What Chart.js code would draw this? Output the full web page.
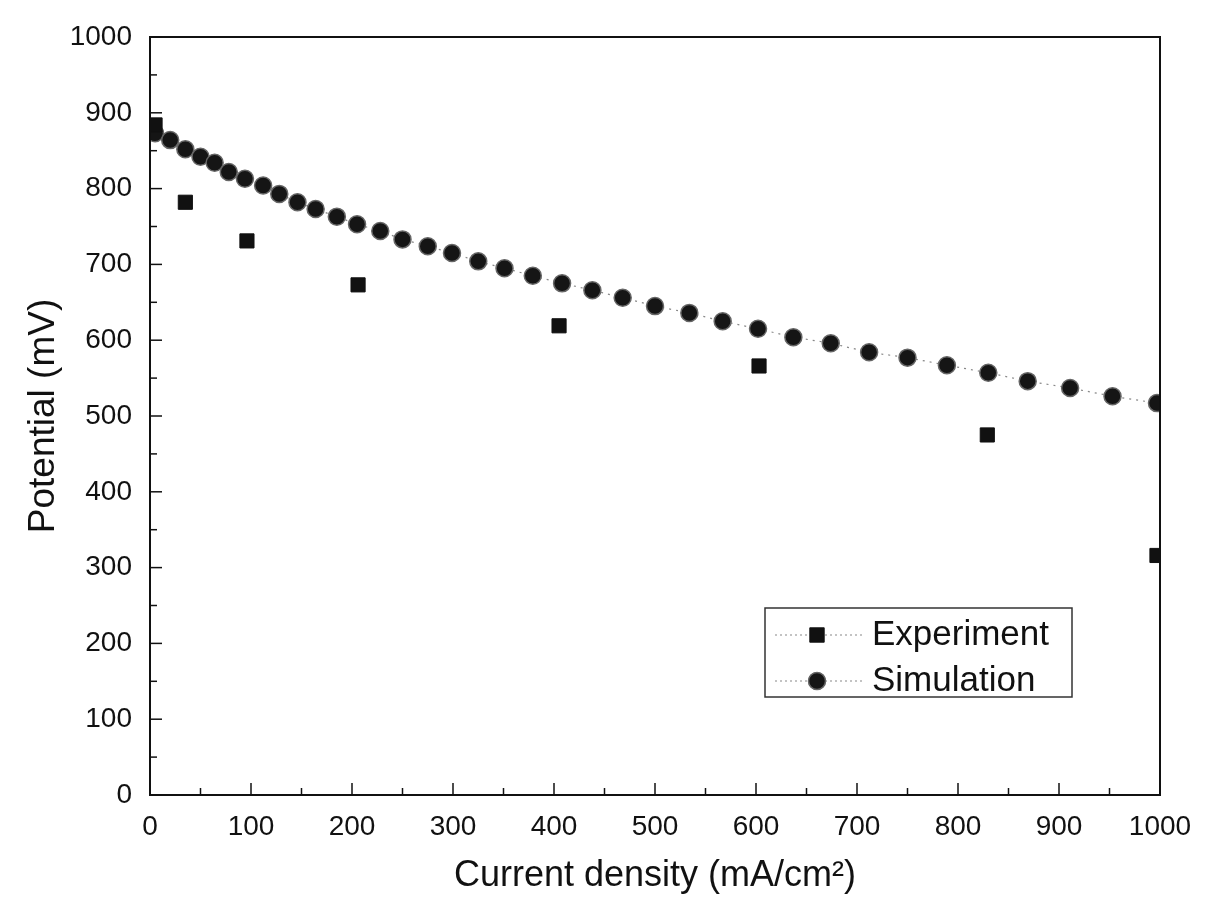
<!DOCTYPE html>
<html>
<head>
<meta charset="utf-8">
<script src="https://cdn.jsdelivr.net/npm/chart.js@4/dist/chart.umd.min.js"></script>
<style>
  html, body { margin: 0; padding: 0; background: #fff; }
  #wrap { width: 1219px; height: 898px; position: relative; }
</style>
</head>
<body>
<div id="wrap"><canvas id="polCurve"></canvas></div>
<script>
// values
const simCurrent = [0, 5, 20, 35, 50, 64, 78, 94, 112, 128, 146, 164, 185, 205, 228, 250, 275, 299, 325, 351, 379, 408, 438, 468, 500, 534, 567, 602, 637, 674, 712, 750, 789, 830, 869, 911, 953, 997];
const simPotential = [880, 873, 864, 852, 842, 834, 822, 813, 804, 793, 782, 773, 763, 753, 744, 733, 724, 715, 704, 695, 685, 675, 666, 656, 645, 636, 625, 615, 604, 596, 584, 577, 567, 557, 546, 537, 526, 517];
const expCurrent = [5, 35, 96, 206, 405, 603, 829, 997];
const expPotential = [884, 782, 731, 673, 619, 566, 475, 316];
const axisTicks = [0, 100, 200, 300, 400, 500, 600, 700, 800, 900, 1000];

const FONT = "'Liberation Sans', Arial, sans-serif";

document.addEventListener('DOMContentLoaded', function() {
    const ctx = document.getElementById('polCurve').getContext('2d');

    // frame + inward ticks like the original plot
    const framePlugin = {
        id: 'frame',
        afterDatasetsDraw(chart) {
            const c = chart.ctx;
            const a = chart.chartArea;
            const xs = chart.scales.x;
            const ys = chart.scales.y;
            c.save();
            c.strokeStyle = '#111';
            c.lineWidth = 2;
            c.strokeRect(a.left, a.top, a.right - a.left, a.bottom - a.top);
            c.lineWidth = 1.5;
            for (let v = 0; v <= 1000; v += 50) {
                const major = v % 100 === 0;
                const len = major ? 12 : 7;
                const px = xs.getPixelForValue(v);
                c.beginPath();
                c.moveTo(px, a.bottom);
                c.lineTo(px, a.bottom - len);
                c.stroke();
                const py = ys.getPixelForValue(v);
                c.beginPath();
                c.moveTo(a.left, py);
                c.lineTo(a.left + len, py);
                c.stroke();
            }
            c.restore();
        }
    };

    // legend box drawn inside the plot area
    const legendPlugin = {
        id: 'boxLegend',
        afterDraw(chart) {
            const c = chart.ctx;
            const bx = 765, by = 608, bw = 307, bh = 89;
            c.save();
            c.fillStyle = '#fff';
            c.fillRect(bx, by, bw, bh);
            c.strokeStyle = '#333';
            c.lineWidth = 1.5;
            c.strokeRect(bx, by, bw, bh);
            chart.data.datasets.forEach(function(ds, i) {
                const cy = by + 27 + i * 46;
                c.strokeStyle = '#888';
                c.lineWidth = 1.2;
                c.setLineDash([2, 3]);
                c.beginPath();
                c.moveTo(bx + 10, cy);
                c.lineTo(bx + 97, cy);
                c.stroke();
                c.setLineDash([]);
                Chart.helpers.drawPoint(c, {
                    pointStyle: ds.pointStyle,
                    radius: ds.pointRadius,
                    borderWidth: ds.pointBorderWidth
                }, bx + 52, cy);
                c.fillStyle = ds.pointBackgroundColor;
                c.strokeStyle = ds.pointBorderColor;
                c.lineWidth = ds.pointBorderWidth;
                c.fill();
                c.stroke();
                c.fillStyle = '#111';
                c.font = '35px ' + FONT;
                c.textBaseline = 'middle';
                c.fillText(ds.label, bx + 107, cy);
            });
            c.restore();
        }
    };

    new Chart(ctx, {
        type: 'scatter',
        data: {
            datasets: [
                {
                    label: 'Experiment',
                    data: expCurrent.map((x, i) => ({ x: x, y: expPotential[i] })),
                    pointStyle: 'rect',
                    pointRadius: 10,
                    pointBackgroundColor: '#111',
                    pointBorderColor: '#111',
                    pointBorderWidth: 1,
                    showLine: false
                },
                {
                    label: 'Simulation',
                    data: simCurrent.map((x, i) => ({ x: x, y: simPotential[i] })),
                    pointStyle: 'circle',
                    pointRadius: 8.5,
                    pointBackgroundColor: '#151515',
                    pointBorderColor: '#666',
                    pointBorderWidth: 1.5,
                    showLine: true,
                    borderColor: '#888',
                    borderWidth: 1.2,
                    borderDash: [2, 5],
                    tension: 0
                }
            ]
        },
        options: {
            responsive: true,
            maintainAspectRatio: false,
            animation: false,
            layout: { padding: { top: 37, right: 59, left: 0, bottom: 0 } },
            plugins: {
                legend: { display: false },
                tooltip: { enabled: false }
            },
            scales: {
                x: {
                    type: 'linear',
                    min: 0,
                    max: 1000,
                    afterFit: function(s) { s.height = 103; },
                    afterBuildTicks: function(s) { s.ticks = axisTicks.map(v => ({ value: v })); },
                    grid: { display: false, drawTicks: false },
                    border: { display: false },
                    ticks: {
                        color: '#111',
                        padding: 15,
                        maxRotation: 0,
                        font: { family: FONT, size: 28 },
                        callback: function(value) { return String(value); }
                    },
                    title: {
                        display: true,
                        text: 'Current density (mA/cm²)',
                        color: '#111',
                        padding: { top: 0, bottom: 0 },
                        font: { family: FONT, size: 36 }
                    }
                },
                y: {
                    type: 'linear',
                    min: 0,
                    max: 1000,
                    afterFit: function(s) { s.width = 150; },
                    afterBuildTicks: function(s) { s.ticks = axisTicks.map(v => ({ value: v })); },
                    grid: { display: false, drawTicks: false },
                    border: { display: false },
                    ticks: {
                        color: '#111',
                        padding: 18,
                        font: { family: FONT, size: 28 },
                        callback: function(value) { return String(value); }
                    },
                    title: {
                        display: true,
                        text: 'Potential (mV)',
                        color: '#111',
                        padding: { top: 22, bottom: 0 },
                        font: { family: FONT, size: 37 }
                    }
                }
            }
        },
        plugins: [framePlugin, legendPlugin]
    });
});
</script>
</body>
</html>
